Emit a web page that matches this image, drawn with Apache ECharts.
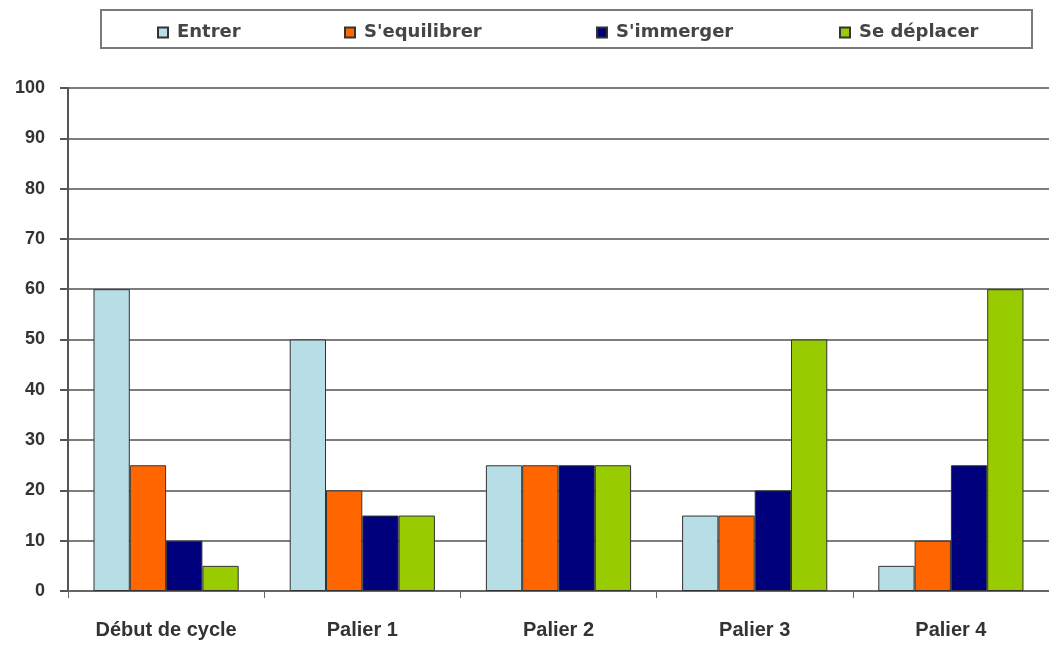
<!DOCTYPE html>
<html>
<head>
<meta charset="utf-8">
<script src="https://cdn.jsdelivr.net/npm/echarts@6/dist/echarts.min.js"></script>
<style>
html,body{margin:0;padding:0;background:#fff;}
#chart{width:1049px;height:651px;}
</style>
</head>
<body>
<div id="chart"></div>
<script>
const categories = ['Début de cycle', 'Palier 1', 'Palier 2', 'Palier 3', 'Palier 4'];
const seriesNames = ['Entrer', "S'equilibrer", "S'immerger", 'Se déplacer'];
const entrer = [60, 50, 25, 15, 5];
const sequilibrer = [25, 20, 25, 15, 10];
const simmerger = [10, 15, 25, 20, 25];
const sedeplacer = [5, 15, 25, 50, 60];
const yTicks = [0, 10, 20, 30, 40, 50, 60, 70, 80, 90, 100];

const colors = ['#b7dde6', '#ff6600', '#00007c', '#99cc00'];
const values = [entrer, sequilibrer, simmerger, sedeplacer];
const legendLeft = [152, 339, 591, 834];

const chart = echarts.init(document.getElementById('chart'), null, {renderer: 'canvas'});

const option = {
  backgroundColor: '#ffffff',
  animation: false,
  graphic: [{
    type: 'rect',
    left: 100, top: 9,
    shape: {width: 931, height: 38},
    style: {fill: '#ffffff', stroke: '#7a7a7a', lineWidth: 2},
    z: -1
  }],
  legend: seriesNames.map((n, i) => ({
    data: [n],
    left: legendLeft[i],
    top: 18,
    icon: 'rect',
    itemWidth: 10,
    itemHeight: 10,
    itemGap: 0,
    textStyle: {
      fontFamily: 'DejaVu Sans',
      fontWeight: 'bold',
      fontSize: 18,
      color: '#454545',
      lineHeight: 19,
      padding: [0, 0, 0, 4]
    }
  })),
  grid: {left: 68, top: 88, width: 990, height: 503, containLabel: false},
  xAxis: {
    type: 'category',
    data: categories,
    axisLine: {lineStyle: {color: '#666666', width: 2}},
    axisTick: {show: true, length: 7, lineStyle: {color: '#666666', width: 1}},
    axisLabel: {
      margin: 29,
      fontFamily: 'Liberation Sans',
      fontWeight: 'bold',
      fontSize: 20,
      color: '#333333'
    }
  },
  yAxis: {
    type: 'value',
    min: 0, max: 100, interval: 10,
    axisLine: {show: true, lineStyle: {color: '#555555', width: 2}},
    axisTick: {show: true, length: 8, lineStyle: {color: '#555555', width: 2}},
    splitLine: {show: true, lineStyle: {color: '#7d7d7d', width: 2}},
    axisLabel: {
      margin: 23,
      fontFamily: 'Liberation Sans',
      fontWeight: 'bold',
      fontSize: 18,
      color: '#333333',
      formatter: v => yTicks.includes(v) ? String(v) : ''
    }
  },
  series: seriesNames.map((n, i) => ({
    name: n,
    type: 'bar',
    data: values[i],
    barGap: '0%',
    barCategoryGap: '26%',
    itemStyle: {color: colors[i], borderColor: '#333333', borderWidth: 1}
  }))
};
chart.setOption(option);
</script>
</body>
</html>
